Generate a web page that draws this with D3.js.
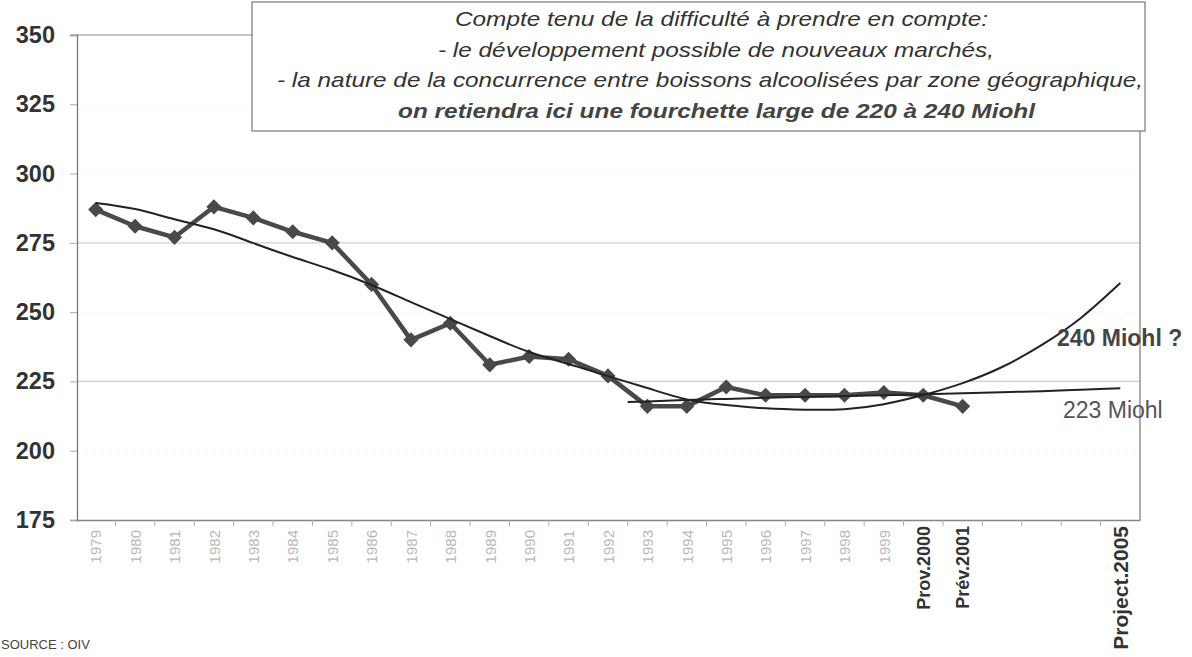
<!DOCTYPE html>
<html>
<head>
<meta charset="utf-8">
<script src="https://cdn.jsdelivr.net/npm/d3@7/dist/d3.min.js"></script>
<style>
  html, body { margin: 0; padding: 0; background: #fff; }
  svg { display: block; font-family: Arial, "Liberation Sans", sans-serif; }
</style>
</head>
<body>
<svg id="chart" width="1192" height="657"></svg>
<script>
// ---- data ----
const years = [1979,1980,1981,1982,1983,1984,1985,1986,1987,1988,1989,1990,1991,1992,1993,1994,1995,1996,1997,1998,1999,2000,2001,2002,2003,2004,2005];
const yearLabels = ["1979","1980","1981","1982","1983","1984","1985","1986","1987","1988","1989","1990","1991","1992","1993","1994","1995","1996","1997","1998","1999","Prov.2000","Prév.2001","","","","Project.2005"];
const consYears = [1979,1980,1981,1982,1983,1984,1985,1986,1987,1988,1989,1990,1991,1992,1993,1994,1995,1996,1997,1998,1999,2000,2001];
const consValues = [287,281,277,288,284,279,275,260,240,246,231,234,233,227,216,216,223,220,220,220,221,220,216];
const polyYears = [1979,1980,1981,1982,1983,1984,1985,1986,1987,1988,1989,1990,1991,1992,1993,1994,1995,1996,1997,1998,1999,2000,2001,2002,2003,2004,2005];
const polyValues = [289.4,287.2,283.5,279.9,274.9,269.9,265.2,259.8,253.6,247.5,241.4,235.6,231.3,226.9,222.6,218.5,216.5,215.3,214.8,215.0,216.8,220.1,224.4,230.2,238.1,247.9,260.5];
const logYears = [1992.5,1993,1994,1995,1996,1997,1998,1999,2000,2001,2002,2003,2004,2005];
const logValues = [217.6,217.8,218.3,218.7,219.1,219.4,219.7,220.0,220.4,220.7,221.1,221.5,222.0,222.5];
const yTicks = [175,200,225,250,275,300,325,350];
const noteLines = [
  "Compte tenu de la difficulté à prendre en compte:",
  "- le développement possible de nouveaux marchés,",
  "- la nature de la concurrence entre boissons alcoolisées par zone géographique,",
  "on retiendra ici une fourchette large de 220 à 240 Miohl"
];
const labelHigh = "240 Miohl ?";
const labelLow = "223 Miohl";
const sourceText = "SOURCE : OIV";

// ---- scales ----
const svg = d3.select("#chart");
const x = d3.scaleLinear().domain([1978.5, 2005.5]).range([76, 1140]);
const y = d3.scaleLinear().domain([175, 350]).range([520, 35]);
const FONT = "Arial, 'Liberation Sans', sans-serif";

// gridlines
svg.append("g").selectAll("line").data(yTicks.filter(t => t > 175 && t < 350)).join("line")
  .attr("x1", 77).attr("x2", 1140)
  .attr("y1", d => y(d)).attr("y2", d => y(d))
  .attr("stroke", d => (d === 275 || d === 225) ? "#cfcfcf" : "#eeeeee")
  .attr("stroke-width", 1.2)
  .attr("stroke-dasharray", d => (d === 275 || d === 225) ? null : "2,6");

// plot frame
svg.append("line").attr("x1", 70).attr("x2", 1140).attr("y1", y(350)).attr("y2", y(350)).attr("stroke", "#888").attr("stroke-width", 1.2);
svg.append("line").attr("x1", 1140).attr("x2", 1140).attr("y1", y(350)).attr("y2", y(175)).attr("stroke", "#777").attr("stroke-width", 1.2);

// y axis
const yAxis = svg.append("g").attr("transform", "translate(77,0)")
  .call(d3.axisLeft(y).tickValues(yTicks).tickSize(7).tickPadding(15).tickFormat(d3.format("d")));
yAxis.select(".domain").attr("stroke", "#777").attr("stroke-width", 1.3);
yAxis.selectAll(".tick line").attr("stroke", "#aaa");
yAxis.selectAll("text").attr("font-size", 23.5).attr("font-weight", "bold").attr("fill", "#333")
  .attr("font-family", FONT);

// x axis
const xAxis = svg.append("g").attr("transform", `translate(0,${y(175)})`)
  .call(d3.axisBottom(x).tickValues(years).tickSize(0).tickPadding(10)
    .tickFormat((d, i) => yearLabels[i]));
xAxis.select(".domain").attr("stroke", "#888").attr("stroke-width", 1.5);
xAxis.selectAll("text")
  .attr("transform", "rotate(-90)")
  .attr("text-anchor", "end")
  .attr("dx", (d, i) => yearLabels[i].length > 4 ? "-6" : "-10").attr("dy", "0.35em").attr("y", 0)
  .attr("font-family", FONT)
  .attr("font-size", (d, i) => yearLabels[i].length > 10 ? 21 : (yearLabels[i].length > 4 ? 18 : 15))
  .attr("font-weight", (d, i) => yearLabels[i].length > 4 ? "bold" : "normal")
  .attr("fill", (d, i) => yearLabels[i].length > 4 ? "#333" : "#b8b8b8");
// small ticks between categories
svg.append("g").selectAll("line").data(years.slice(1)).join("line")
  .attr("x1", d => x(d - 0.5)).attr("x2", d => x(d - 0.5))
  .attr("y1", y(175)).attr("y2", y(175) + 6)
  .attr("stroke", "#aaa");

// consumption line
const line = d3.line().x(d => x(d[0])).y(d => y(d[1]));
svg.append("path").datum(consYears.map((yr, i) => [yr, consValues[i]]))
  .attr("d", line).attr("fill", "none").attr("stroke", "#474a48").attr("stroke-width", 4.5)
  .attr("stroke-linejoin", "round");
svg.append("g").selectAll("path").data(consYears.map((yr, i) => [yr, consValues[i]])).join("path")
  .attr("d", d3.symbol().type(d3.symbolSquare).size(115))
  .attr("transform", d => `translate(${x(d[0])},${y(d[1])}) rotate(45)`)
  .attr("fill", "#474a48");

// polynomial trend
const smooth = d3.line().x(d => x(d[0])).y(d => y(d[1])).curve(d3.curveNatural);
svg.append("path").datum(polyYears.map((yr, i) => [yr, polyValues[i]]))
  .attr("d", smooth).attr("fill", "none").attr("stroke", "#222").attr("stroke-width", 2);
// log trend
svg.append("path").datum(logYears.map((yr, i) => [yr, logValues[i]]))
  .attr("d", smooth).attr("fill", "none").attr("stroke", "#222").attr("stroke-width", 2);

// labels at right
svg.append("text").attr("x", 1057).attr("y", 346).text(labelHigh)
  .attr("font-size", 23).attr("font-weight", "bold").attr("fill", "#444").attr("font-family", FONT);
svg.append("text").attr("x", 1063).attr("y", 418).text(labelLow)
  .attr("font-size", 23).attr("fill", "#555").attr("font-family", FONT);

// annotation box
svg.append("rect").attr("x", 252).attr("y", 2).attr("width", 893).attr("height", 129)
  .attr("fill", "#fff").attr("stroke", "#777").attr("stroke-width", 1.2);
const noteX = [455, 438, 277, 398];
const noteW = [533, 556, 866, 637];
svg.append("g").selectAll("text").data(noteLines).join("text")
  .attr("x", (d, i) => noteX[i]).attr("y", (d, i) => 26 + i * 30.5)
  .attr("textLength", (d, i) => noteW[i]).attr("lengthAdjust", "spacingAndGlyphs")
  .attr("font-size", 21).attr("font-style", "italic").attr("font-family", FONT)
  .attr("font-weight", (d, i) => i === 3 ? "bold" : "normal")
  .attr("fill", (d, i) => i === 3 ? "#444" : "#333")
  .text(d => d);

// source
svg.append("text").attr("x", 1).attr("y", 649).text(sourceText)
  .attr("font-size", 13).attr("fill", "#444").attr("font-family", FONT);
</script>
</body>
</html>
